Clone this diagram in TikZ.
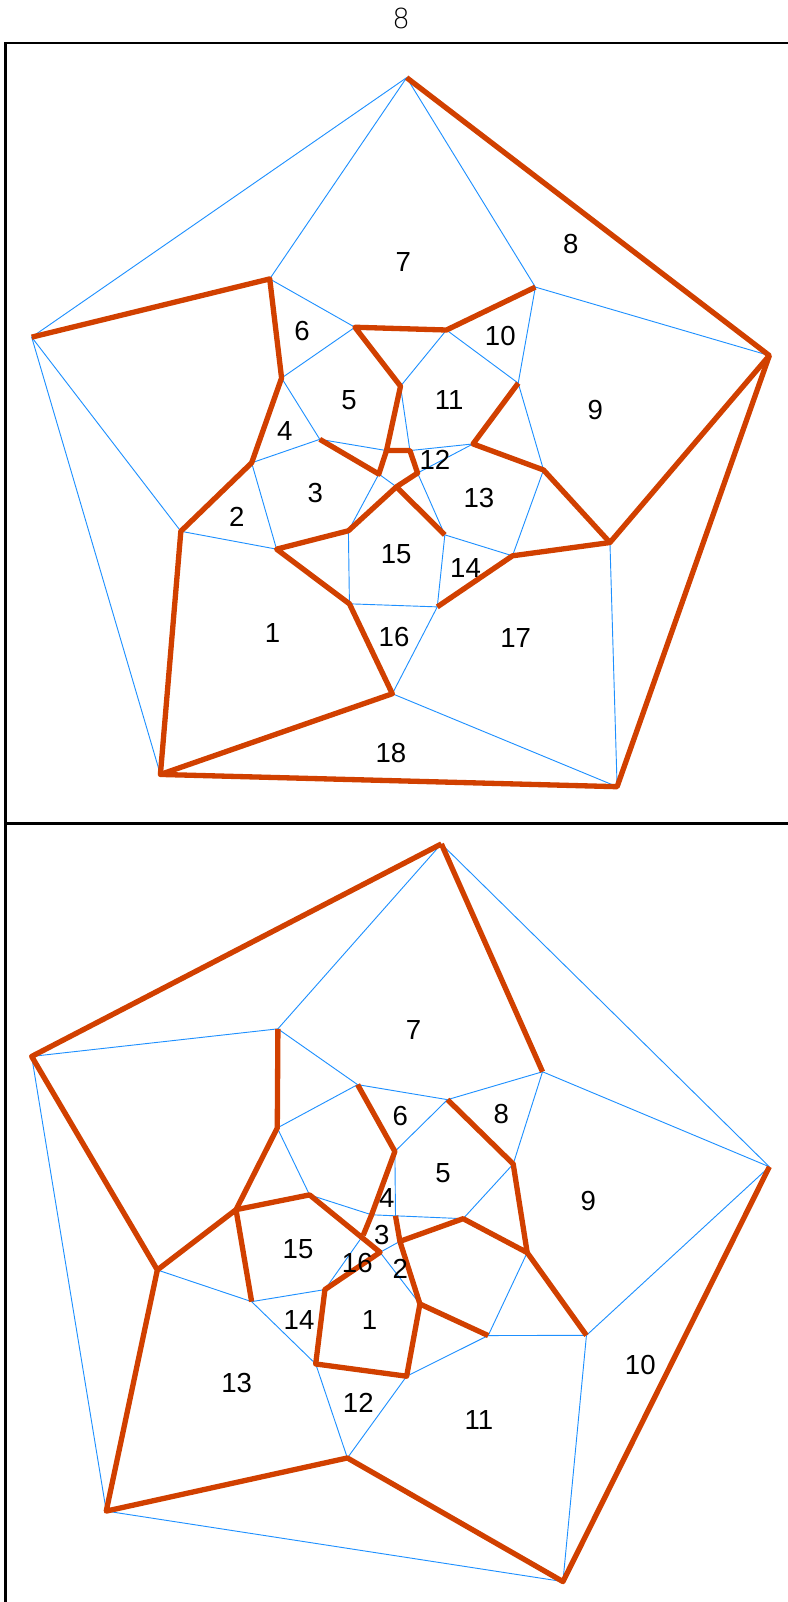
\documentclass[tikz,border=0pt]{standalone}
\usepackage{fontspec}
\setmainfont{Liberation Sans}
\newfontfamily\thinfont{DejaVu Sans ExtraLight}
\usetikzlibrary{positioning}
\tikzset{
  frameline/.style = {line width=2.2pt, black},
  tiltline/.style  = {line width=0.9pt, color={rgb,255:red,30;green,144;blue,255}},
  cutline/.style   = {line width=5.2pt, color={rgb,255:red,209;green,64;blue,0}, line join=round, line cap=butt},
  facelabel/.style = {font=\fontsize{27}{27}\selectfont, inner sep=0pt, text=black, xshift=0.7pt, yshift=-0.7pt},
  toplabel/.style  = {font=\thinfont\fontsize{27}{27}\selectfont, inner sep=0pt, xshift=0.7pt, yshift=-0.5pt},
}

\begin{document}
\begin{tikzpicture}[x=1pt,y=-1pt]
  \useasboundingbox (0,0) rectangle (771,1568);

  % =======================================================================
  %  Frame and title
  % =======================================================================
  \coordinate (frameTL) at (5.5,42);
  \coordinate (frameTR) at (771,42);
  \coordinate (frameML) at (5.5,806);
  \coordinate (frameMR) at (771,806);
  \coordinate (frameBL) at (5.5,1568);
  \draw[frameline] (frameTR) -- (frameTL) -- (frameBL);
  \draw[frameline] (frameML) -- (frameMR);
  \node[toplabel] (title) at (392,18) {8};

  % =======================================================================
  %  Upper graph
  % =======================================================================
  \foreach \name/\px/\py in {
      a/398/76, b/753/348, c/604/770, d/157/758, e/31/330,
      f/264/273, g/524/281, h/597/531, i/384/679, j/177/520,
      k/275.6/370, l/246.3/453, m/342/591, n/270.7/537.5, o/341/519.5,
      p/388/476.5, q/408.7/463, r/401.2/441, s/378.3/441, t/370.8/464,
      u/313/430, v/392/378, w/347.4/320.3, x/437/323, y/435.4/523.5,
      z/507.2/375, aa/463/434.5, ab/532/460, ac/501.6/544, ad/428/594}
    { \coordinate (\name) at (\px,\py); }

  % thin edges
  \foreach \from/\to in {a/e, a/f, a/g, g/b, g/z, e/j, e/d, j/n, l/n, l/u,
      k/u, k/w, f/w, x/v, x/z, z/ab, ab/ac, ac/y, ac/h, h/c, i/c, ad/i, ad/y, ad/m,
      m/o, o/t, t/p, u/s, v/r, r/aa, q/aa, q/y}
    { \draw[tiltline] (\from) -- (\to); }

  % thick edges
  \draw[cutline] (a) -- (b) -- (c) -- (d) -- (i) -- (m) -- (n) -- (o) -- (p)
        -- (q) -- (r) -- (s) -- (v) -- (w) -- (x) -- (g);
  \draw[cutline] (e) -- (f) -- (k) -- (l) -- (j) -- (d);
  \draw[cutline] (b) -- (h) -- (ac) -- (ad);
  \draw[cutline] (h) -- (ab) -- (aa) -- (z);
  \draw[cutline] (s) -- (t) -- (u);
  \draw[cutline] (p) -- (y);

  % face numbers
  \foreach \num/\px/\py in {1/266/619, 2/231/505, 3/308/482, 4/278/421, 5/341/391,
      6/295/323, 7/394/256, 8/558/238, 9/582/401, 10/489/328, 11/439/391,
      12/425/449, 13/468/487, 14/455/555, 15/387/542, 16/385/623, 17/504/624, 18/382/736}
    { \node[facelabel] (up\num) at (\px,\py) {\num}; }

  % =======================================================================
  %  Lower graph
  % =======================================================================
  \foreach \name/\px/\py in {
      A/432/826, B/753/1142, C/551/1548, D/104/1479, E/31/1034,
      F/272/1007, G/531/1049, H/574/1307, I/340/1427, J/154/1243,
      K/271.4/1104, L/231/1184, M/303/1169.5, N/350/1061.6, O/386.5/1127,
      P/363.7/1189, Q/355.5/1209, R/372/1225.7, S/318/1262.2, T/246.3/1274,
      U/309/1335, V/398/1347, W/411/1276.3, X/391.4/1215, Y/387.1/1190,
      Z/453.3/1192.8, AA/477.8/1307.2, AB/516/1226, AC/502.3/1139.3, AD/438/1076.3}
    { \coordinate (\name) at (\px,\py); }

  % thin edges
  \foreach \from/\to in {E/F, E/D, A/F, A/B, G/B, D/C, F/N, K/N, K/M, N/AD, AD/G,
      G/AC, O/AD, O/Y, M/P, P/Y, Y/Z, Z/AC, AA/AB, AA/H, AA/V, V/I, U/I, U/T,
      T/S, J/T, S/Q, R/W, R/X, H/B, H/C}
    { \draw[tiltline] (\from) -- (\to); }

  % thick edges
  \draw[cutline] (A) -- (E) -- (J) -- (D) -- (I) -- (C) -- (B);
  \draw[cutline] (A) -- (G);
  \draw[cutline] (F) -- (K) -- (L) -- (J);
  \draw[cutline] (T) -- (L) -- (M) -- (R) -- (S) -- (U) -- (V) -- (W) -- (X) -- (Y);
  \draw[cutline] (N) -- (O) -- (P) -- (Q);
  \draw[cutline] (X) -- (Z) -- (AB) -- (AC) -- (AD);
  \draw[cutline] (W) -- (AA);
  \draw[cutline] (AB) -- (H);

  % face numbers
  \foreach \num/\px/\py in {1/361/1291, 2/391/1241, 3/373/1208, 4/378/1172, 5/433/1148,
      6/391/1092, 7/404/1007, 8/490/1090, 9/575/1175, 10/626/1335, 11/468/1389,
      12/350/1372, 13/231/1353, 14/292/1291, 15/291/1222, 16/349/1235}
    { \node[facelabel] (lo\num) at (\px,\py) {\num}; }
\end{tikzpicture}
\end{document}
